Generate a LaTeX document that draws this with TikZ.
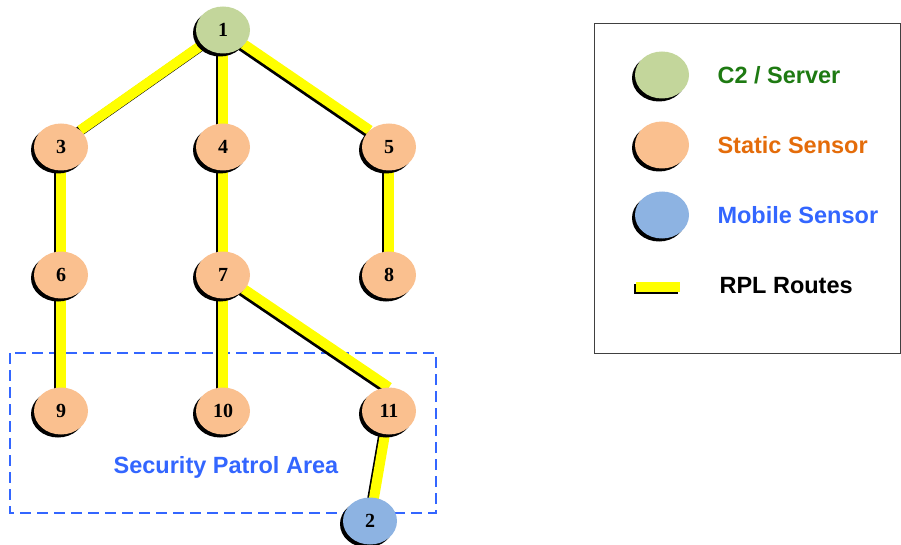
\documentclass[tikz,border=0pt]{standalone}
\usepackage{fontspec}
\setmainfont{Liberation Serif}
\setsansfont{Liberation Sans}
\usetikzlibrary{shapes.geometric,shadows}

\definecolor{serverfill}{HTML}{C3D69B}
\definecolor{staticfill}{HTML}{FAC08F}
\definecolor{mobilefill}{HTML}{8DB3E2}
\definecolor{servertext}{HTML}{1E7A12}
\definecolor{statictext}{HTML}{E46C0A}
\definecolor{mobiletext}{HTML}{3366FF}
\definecolor{routeyellow}{HTML}{FFFF00}

\tikzset{
  mote/.style={ellipse, minimum width=54pt, minimum height=47pt, inner sep=0pt,
    font=\fontsize{20}{20}\selectfont\bfseries,
    drop shadow={shadow xshift=-3pt, shadow yshift=-3pt, fill=black, opacity=1}},
  anchorshape/.style={ellipse, minimum width=54pt, minimum height=47pt, inner sep=0pt},
  server/.style={mote, fill=serverfill},
  static/.style={mote, fill=staticfill},
  mobile/.style={mote, fill=mobilefill},
  route/.style={draw=routeyellow, line width=10pt,
    preaction={draw=black, line width=10pt,
      transform canvas={xshift=-2pt, yshift=-2pt}}},
  legendtext/.style={anchor=west, font=\sffamily\bfseries\fontsize{23.5}{23.5}\selectfont},
}

\begin{document}
\begin{tikzpicture}[x=1pt, y=-1pt]
  \useasboundingbox (0,0) rectangle (901,545);

  % patrol area
  \draw[mobiletext, line width=1.1pt, dash pattern=on 11pt off 6pt]
    (10,353) rectangle (436,513);
  \node[font=\sffamily\bfseries\fontsize{23.5}{23.5}\selectfont, text=mobiletext]
    (area) at (226,467) {Security Patrol Area};

  % node positions
  \coordinate (p1) at (223,30);
  \coordinate (p3) at (61,147);
  \coordinate (p4) at (223,147);
  \coordinate (p5) at (389,147);
  \coordinate (p6) at (61,275);
  \coordinate (p7) at (223,275);
  \coordinate (p8) at (389,275);
  \coordinate (p9) at (61,411);
  \coordinate (p10) at (223,411);
  \coordinate (p11) at (389,411);
  \coordinate (p2) at (370,521);

  % invisible outlines giving the border anchors where routes attach
  \node[anchorshape] (a3) at (p3) {};
  \node[anchorshape] (a5) at (p5) {};
  \node[anchorshape] (a11) at (p11) {};

  % RPL routes
  \draw[route] (p1) -- (a3.north east);
  \draw[route] (p1) -- (p4);
  \draw[route] (p1) -- (a5.north west);
  \draw[route] (p3) -- (p6);
  \draw[route] (p4) -- (p7);
  \draw[route] (p5) -- (p8);
  \draw[route] (p6) -- (p9);
  \draw[route] (p7) -- (p10);
  \draw[route] (p7) -- (a11.north);
  \draw[route] (p11) -- (p2);

  % motes
  \node[server] (n1) at (p1) {1};
  \node[static] (n3) at (p3) {3};
  \node[static] (n4) at (p4) {4};
  \node[static] (n5) at (p5) {5};
  \node[static] (n6) at (p6) {6};
  \node[static] (n7) at (p7) {7};
  \node[static] (n8) at (p8) {8};
  \node[static] (n9) at (p9) {9};
  \node[static] (n10) at (p10) {10};
  \node[static] (n11) at (p11) {11};
  \node[mobile] (n2) at (p2) {2};

  % legend
  \draw[black!75, line width=0.9pt] (594,23) rectangle (900,353);
  \node[server] (ls) at (662,75) {};
  \node[static] (lt) at (662,145) {};
  \node[mobile] (lm) at (662,215) {};
  \coordinate (lr1) at (636,287);
  \coordinate (lr2) at (680,287);
  \draw[route] (lr1) -- (lr2);
  \node[legendtext, text=servertext] (tS) at (714,75) {C2 / Server};
  \node[legendtext, text=statictext] (tT) at (714,145) {Static Sensor};
  \node[legendtext, text=mobiletext] (tM) at (714,215) {Mobile Sensor};
  \node[legendtext, text=black] (tR) at (716,286) {RPL Routes};
\end{tikzpicture}
\end{document}
